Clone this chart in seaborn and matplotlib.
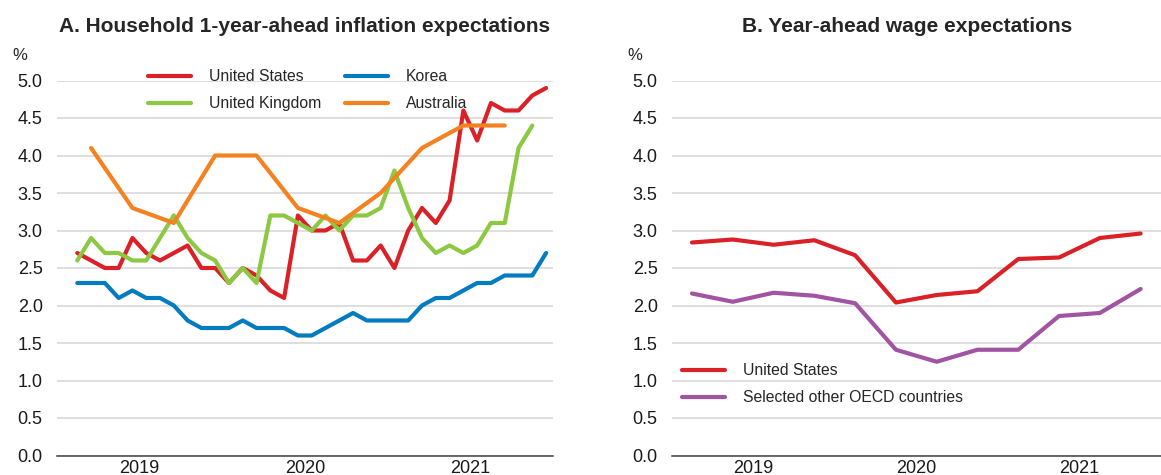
import numpy as np
import pandas as pd
import matplotlib
matplotlib.use('Agg')
import matplotlib.pyplot as plt
import seaborn as sns

# Panel A: monthly index, 0 = Jan 2019
months = list(range(35))
us_infl = [2.7, 2.6, 2.5, 2.5, 2.9, 2.7, 2.6, 2.7, 2.8, 2.5, 2.5, 2.3, 2.5, 2.4, 2.2, 2.1, 3.2, 3.0,
           3.0, 3.1, 2.6, 2.6, 2.8, 2.5, 3.0, 3.3, 3.1, 3.4, 4.6, 4.2, 4.7, 4.6, 4.6, 4.8, 4.9]
uk_infl = [2.6, 2.9, 2.7, 2.7, 2.6, 2.6, 2.9, 3.2, 2.9, 2.7, 2.6, 2.3, 2.5, 2.3, 3.2, 3.2, 3.1,
           3.0, 3.2, 3.0, 3.2, 3.2, 3.3, 3.8, 3.3, 2.9, 2.7, 2.8, 2.7, 2.8, 3.1, 3.1, 4.1, 4.4]
korea_infl = [2.3, 2.3, 2.3, 2.1, 2.2, 2.1, 2.1, 2.0, 1.8, 1.7, 1.7, 1.7, 1.8, 1.7, 1.7, 1.7, 1.6, 1.6,
              1.7, 1.8, 1.9, 1.8, 1.8, 1.8, 1.8, 2.0, 2.1, 2.1, 2.2, 2.3, 2.3, 2.4, 2.4, 2.4, 2.7]
aus_months = [1, 4, 7, 10, 13, 16, 19, 22, 25, 28, 31]
aus_infl = [4.1, 3.3, 3.1, 4.0, 4.0, 3.3, 3.1, 3.5, 4.1, 4.4, 4.4]

# Panel B: quarterly
wage_months = [0, 3, 6, 9, 12, 15, 18, 21, 24, 27, 30, 33]
us_wage = [2.84, 2.88, 2.81, 2.87, 2.67, 2.04, 2.14, 2.19, 2.62, 2.64, 2.90, 2.96]
oecd_wage = [2.16, 2.05, 2.17, 2.13, 2.03, 1.41, 1.25, 1.41, 1.41, 1.86, 1.90, 2.22]

year_labels = ['2019', '2020', '2021']
yticks = [0.0, 0.5, 1.0, 1.5, 2.0, 2.5, 3.0, 3.5, 4.0, 4.5, 5.0]

RED, BLUE, GREEN, ORANGE, PURPLE = '#DA2128', '#037BC1', '#8CC841', '#F58220', '#A154A1'

left = pd.concat([
    pd.DataFrame({'month': months, 'value': us_infl, 'series': 'United States'}),
    pd.DataFrame({'month': months[:len(uk_infl)], 'value': uk_infl, 'series': 'United Kingdom'}),
    pd.DataFrame({'month': months, 'value': korea_infl, 'series': 'Korea'}),
    pd.DataFrame({'month': aus_months, 'value': aus_infl, 'series': 'Australia'}),
])
right = pd.concat([
    pd.DataFrame({'month': wage_months, 'value': us_wage, 'series': 'United States'}),
    pd.DataFrame({'month': wage_months, 'value': oecd_wage, 'series': 'Selected other OECD countries'}),
])

sns.set_style('white')
plt.rcParams['font.family'] = ['Liberation Sans', 'DejaVu Sans']

W, H = 1161, 475
fig = plt.figure(figsize=(W / 100, H / 100), dpi=100)
axL = fig.add_axes([56.6 / W, 19.5 / H, (553 - 56.6) / W, 375 / H])
axR = fig.add_axes([671.6 / W, 19.5 / H, (W - 671.6) / W, 375 / H])

line_kw = dict(lw=3.0, solid_joinstyle='round', estimator=None, errorbar=None)
sns.lineplot(data=left, x='month', y='value', hue='series', ax=axL,
             hue_order=['United States', 'United Kingdom', 'Korea', 'Australia'],
             palette={'United States': RED, 'United Kingdom': GREEN, 'Korea': BLUE, 'Australia': ORANGE},
             **line_kw)
sns.lineplot(data=right, x='month', y='value', hue='series', ax=axR,
             hue_order=['United States', 'Selected other OECD countries'],
             palette={'United States': RED, 'Selected other OECD countries': PURPLE},
             **line_kw)

for ax, xmax in [(axL, 34.5), (axR, 33.89)]:
    ax.set_xlim(-1.5, xmax)
    ax.set_ylim(0, 5.0)
    ax.set_yticks(yticks)
    ax.set_yticklabels([f'{v:.1f}' for v in yticks])
    ax.set_xticks([-1.5, 10.5, 22.5, 34.5])
    ax.set_xticklabels([''] * 4)
    ax.set_xticks([1.5, 4.5, 7.5, 13.5, 16.5, 19.5, 25.5, 28.5, 31.5], minor=True)
    ax.set_xticklabels(['', year_labels[0], '', '', year_labels[1], '', '', year_labels[2], ''], minor=True)
    ax.set_xlabel('')
    ax.set_ylabel('')
    ax.yaxis.grid(True, color='#D9D9D9', lw=1.2)
    ax.set_axisbelow(True)
    for s in ['left', 'right', 'top']:
        ax.spines[s].set_visible(False)
    ax.spines['bottom'].set_color('#404040')
    ax.spines['bottom'].set_linewidth(1.1)
    ax.tick_params(axis='y', length=0, pad=10, labelsize=13, labelcolor='#1a1a1a')
    ax.tick_params(axis='x', which='both', direction='in', color='#404040', width=1.0,
                   pad=3, labelsize=13, labelcolor='#1a1a1a')
    ax.tick_params(axis='x', which='major', length=6.5)
    ax.tick_params(axis='x', which='minor', length=3)

leg_kw = dict(frameon=False, fontsize=11.3, handlelength=2.75, handletextpad=1.15,
              labelspacing=0.78, borderpad=0, borderaxespad=0, loc='upper left')
h, l = axL.get_legend_handles_labels()
axL.legend(h, l, ncol=2, columnspacing=1.5, bbox_transform=fig.transFigure,
           bbox_to_anchor=(148 / W, 1 - 69 / H), **leg_kw)
h, l = axR.get_legend_handles_labels()
axR.legend(h, l, ncol=1, bbox_transform=fig.transFigure,
           bbox_to_anchor=(682 / W, 1 - 363 / H), **leg_kw)

fig.text(304.8 / W, 1 - 27 / H, 'A. Household 1-year-ahead inflation expectations',
         ha='center', va='center', fontsize=15, fontweight='bold')
fig.text(907.5 / W, 1 - 27 / H, 'B. Year-ahead wage expectations',
         ha='center', va='center', fontsize=15, fontweight='bold')
fig.text(20 / W, 1 - 55 / H, '%', ha='center', va='center', fontsize=12)
fig.text(635 / W, 1 - 55 / H, '%', ha='center', va='center', fontsize=12)

fig.savefig('out.png', dpi=100)
